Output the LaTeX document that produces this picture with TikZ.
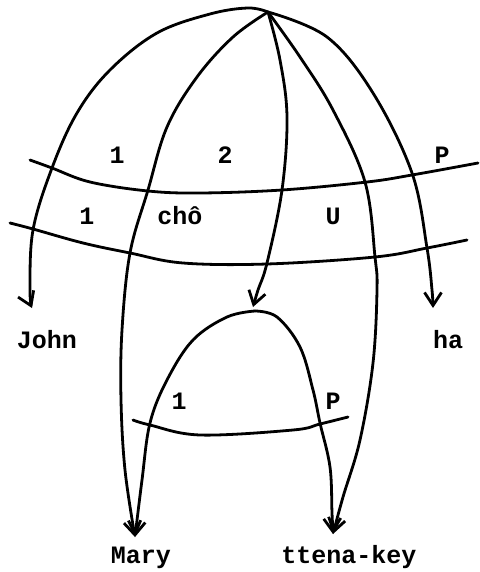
\documentclass[tikz,border=0pt]{standalone}
\usepackage{fontspec}
\setmonofont{Liberation Mono}
\usetikzlibrary{arrows.meta}

\begin{document}
\begin{tikzpicture}[
    x=0.5pt, y=-0.5pt,
    every node/.style={font=\fontsize{12.5}{14}\selectfont\ttfamily\bfseries, anchor=base, inner sep=0pt},
    line/.style={line width=1.4pt, line cap=round, line join=round},
    arr/.style={line, -{Straight Barb[length=6.5pt,width=8.5pt,line width=1.4pt]}},
    curve/.style={smooth, tension=0.6},
]
\useasboundingbox (0,0) rectangle (480,572);

% Top point and arch top
\coordinate (apex) at (268,12);
\coordinate (archtop) at (255,311);

% Word labels
\node (john) at (47,348) {John};
\node (ha) at (448,348) {ha};
\node (mary) at (141,563) {Mary};
\node (ttena) at (349,563) {ttena-key};

% Arrow ends just above the words
\coordinate (tjohn) at (32,308);
\coordinate (tha) at (433,308);
\coordinate (tmary) at (135,537);
\coordinate (tttena) at (333,534);
\coordinate (tarch) at (253,307);

% Row labels
\node (u1) at (117,164) {1};
\node (u2) at (225,164) {2};
\node (uP) at (442,164) {P};
\node (m1) at (87,225) {1};
\node (mcho) at (180,225) {chô};
\node (mU) at (333,225) {U};
\node (l1) at (179,409) {1};
\node (lP) at (333,409) {P};

% Cross lines
\draw[line] plot[curve] coordinates {(30,160) (52,168) (90,182) (148,191) (200,193) (282,190) (367,182) (412,175) (478,163)};
\draw[line] plot[curve] coordinates {(10,223) (33,229) (83,243) (130,253) (183,263) (267,264) (375,257) (427,248) (467,240)};
\draw[line] plot[curve] coordinates {(133,420) (150,425) (200,435) (293,430) (320,424) (348,417)};

% Arcs from the top point
\draw[arr] plot[curve] coordinates {(apex) (248,8) (210,14) (157,33) (110,70) (77,113) (52,168) (33,230) (30,290) (tjohn)};
\draw[arr] plot[curve] coordinates {(apex) (233,37) (197,77) (167,127) (148,190) (130,253) (122,330) (121,400) (125,470) (tmary)};
\draw[arr] plot[curve] coordinates {(apex) (280,60) (287,117) (282,190) (267,263) (258,290) (tarch)};
\draw[arr] plot[curve] coordinates {(apex) (300,57) (333,110) (365,182) (375,257) (377,290) (373,363) (360,440) (343,497) (tttena)};
\draw[arr] plot[curve] coordinates {(apex) (327,37) (373,93) (412,173) (427,248) (432,290) (tha)};

% Lower arch
\draw[arr] plot[curve] coordinates {(archtop) (227,317) (193,340) (167,380) (150,423) (142,480) (tmary)};
\draw[arr] plot[curve] coordinates {(archtop) (277,317) (300,347) (313,390) (320,423) (330,467) (332,513) (tttena)};

\end{tikzpicture}
\end{document}
